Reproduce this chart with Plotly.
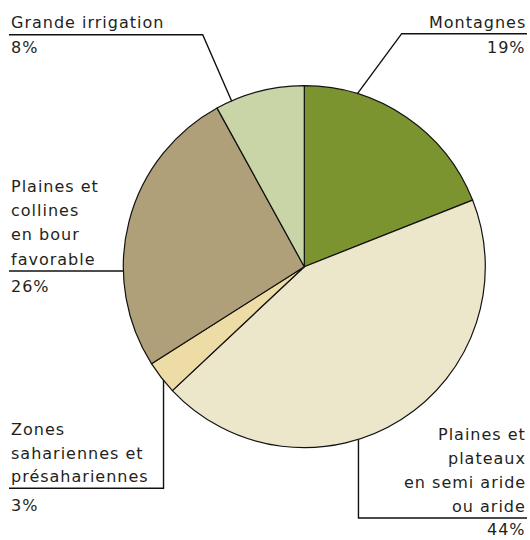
import math
import plotly.graph_objects as go

categories = ["Montagnes", "Plaines et plateaux en semi aride ou aride",
              "Zones sahariennes et présahariennes",
              "Plaines et collines en bour favorable", "Grande irrigation"]
values = [19, 44, 3, 26, 8]
pct_labels = ["19%", "44%", "3%", "26%", "8%"]
label_lines = [["Montagnes"],
               ["Plaines et", "plateaux", "en semi aride", "ou aride"],
               ["Zones", "sahariennes et", "présahariennes"],
               ["Plaines et", "collines", "en bour", "favorable"],
               ["Grande irrigation"]]
colors = ["#7b9430", "#ece6cb", "#eddca5", "#b0a07a", "#c9d5a7"]

W, H = 530, 540
CX, CY, R = 304.3, 266.7, 181.0
FONT = dict(family="DejaVu Sans", size=16, color="#231f20")
LINE = dict(color="#111111", width=1.4)

fig = go.Figure()
fig.add_trace(go.Pie(
    labels=categories, values=values, sort=False, direction="clockwise",
    rotation=0, marker=dict(colors=colors, line=dict(color="#111111", width=1.2)),
    textinfo="none", hoverinfo="label+percent", showlegend=False,
    domain=dict(x=[(CX - R) / W, (CX + R) / W], y=[1 - (CY + R) / H, 1 - (CY - R) / H]),
))

# dot anchors: (angle from top clockwise in degrees, radius fraction)
anchors = [(15.3, 0.92), (158.6, 0.82), (233.3, 0.97), (268.3, 0.81), (336.3, 0.96)]

def pt(a, f):
    t = math.radians(a)
    return CX + f * R * math.sin(t), CY - f * R * math.cos(t)

dots = [pt(a, f) for a, f in anchors]

paths = []
d = dots[0]; paths.append(([d[0], 401.7, 527], [d[1], 33.7, 33.7]))
d = dots[1]; paths.append(([d[0], d[0], 527], [d[1], 518, 518]))
d = dots[2]; paths.append(([d[0], d[0], 9], [d[1], 488.3, 488.3]))
d = dots[3]; paths.append(([d[0], 9], [d[1], d[1]]))
d = dots[4]; paths.append(([d[0], 202.7, 9], [d[1], 34.7, 34.7]))

for xs, ys in paths:
    fig.add_trace(go.Scatter(x=xs, y=ys, mode="lines", line=LINE,
                             hoverinfo="skip", showlegend=False, xaxis="x", yaxis="y"))
fig.add_trace(go.Scatter(x=[p[0] for p in dots], y=[p[1] for p in dots], mode="markers",
                         marker=dict(color="#111111", size=6), hoverinfo="skip",
                         showlegend=False))

text_pos = [
    (528, "right", 22, 24, 47),
    (528, "right", 434, 24, 529.5),
    (9, "left", 429.3, 23.7, 505),
    (9, "left", 186.7, 24.1, 286),
    (9, "left", 22, 24, 47),
]

def sp(t):
    return '<span style="letter-spacing:1px">' + t + '</span>'

ann = []
for lines, pct, (x, al, y0, step, py) in zip(label_lines, pct_labels, text_pos):
    for i, ln in enumerate(lines):
        ann.append(dict(x=x, y=y0 + i * step, text=sp(ln), showarrow=False, xanchor=al,
                        yanchor="middle", font=FONT, xref="x", yref="y"))
    ann.append(dict(x=x, y=py, text=sp(pct), showarrow=False, xanchor=al,
                    yanchor="middle", font=FONT, xref="x", yref="y"))

fig.update_layout(
    width=W, height=H, margin=dict(l=0, r=0, t=0, b=0),
    paper_bgcolor="white", plot_bgcolor="rgba(0,0,0,0)",
    xaxis=dict(range=[0, W], visible=False, fixedrange=True, domain=[0, 1]),
    yaxis=dict(range=[H, 0], visible=False, fixedrange=True, domain=[0, 1]),
    annotations=ann,
)
fig.write_html("out.html", config={"displayModeBar": False},
               post_script="document.body.style.margin='0';document.body.style.overflow='hidden';")
